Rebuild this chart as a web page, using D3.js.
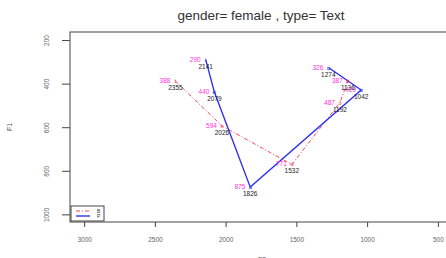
<!DOCTYPE html>
<html>
   <head>
      <script src="https://d3js.org/d3.v7.min.js"></script>
   </head>
   <style>
      body { margin: 0; background: #fff; }
   </style>
   <body>
      <script>
         let [width, height] = [446, 258];
         let [plotLeft, plotTop, plotRight, plotBottom] = [70, 32, 452, 222];

         // vowel data: F2 (x), F1 (y), symbol, series
         let vowels = ['i', 'ɪ', 'e', 'ɛ', 'a', 'ɑ', 'u', 'ʊ', 'o', 'ɔ'];
         let f2 = [2141, 2355, 2079, 2026, 1826, 1532, 1274, 1136, 1042, 1192];
         let f1 = [290, 388, 440, 594, 875, 771, 326, 387, 429, 487];
         let group = ['P', 'B', 'P', 'B', 'P', 'B', 'P', 'B', 'P', 'B'];
         let bluePath = [0, 2, 4, 8, 6];
         let redPath = [1, 3, 5, 9, 7];
         let xTicks = [3000, 2500, 2000, 1500, 1000, 500];
         let yTicks = [200, 400, 600, 800, 1000];
         let legendLabels = ['B', 'P'];

         let svg = d3.select('body').append('svg').attr('width', width).attr('height', height);

         let x = d3.scaleLinear().domain([3100, 400]).range([plotLeft, plotRight]);
         let y = d3.scaleLinear().domain([163, 1035]).range([plotTop, plotBottom]);

         // title
         svg.append('text')
            .attr('x', 261).attr('y', 20)
            .attr('text-anchor', 'middle')
            .style('font-family', 'Liberation Sans, Arial')
            .style('font-size', '13.5px')
            .style('fill', '#333')
            .text('gender= female , type= Text');

         // axes
         let xAxis = svg.append('g')
            .attr('transform', `translate(0, ${plotBottom})`)
            .call(d3.axisBottom(x).tickValues(xTicks).tickSize(5).tickPadding(10).tickFormat(d3.format('d')));
         let yAxis = svg.append('g')
            .attr('transform', `translate(${plotLeft}, 0)`)
            .call(d3.axisLeft(y).tickValues(yTicks).tickSize(8).tickFormat(d3.format('d')));

         [xAxis, yAxis].forEach(a => {
            a.select('.domain').remove();
            a.selectAll('line').attr('stroke', '#444');
            a.selectAll('text')
               .style('font-family', 'Liberation Sans, Arial')
               .style('font-size', '6.5px')
               .style('fill', '#666');
         });
         yAxis.selectAll('text')
            .attr('x', 0).attr('dy', 0)
            .attr('text-anchor', 'middle')
            .attr('transform', 'translate(-21, 0) rotate(-90)');

         // axis titles
         svg.append('text')
            .attr('transform', 'translate(12, 127) rotate(-90)')
            .attr('text-anchor', 'middle')
            .style('font-family', 'Liberation Sans, Arial')
            .style('font-size', '7px')
            .style('fill', '#555')
            .text('F1');
         svg.append('text')
            .attr('x', 262).attr('y', 262)
            .attr('text-anchor', 'middle')
            .style('font-family', 'Liberation Sans, Arial')
            .style('font-size', '7px')
            .style('fill', '#555')
            .text('F2');

         // frame
         svg.append('rect')
            .attr('x', plotLeft).attr('y', plotTop)
            .attr('width', plotRight - plotLeft).attr('height', plotBottom - plotTop)
            .attr('fill', 'none').attr('stroke', '#444');

         let line = d3.line().x(i => x(f2[i])).y(i => y(f1[i]));

         svg.append('path')
            .attr('d', line(redPath))
            .attr('fill', 'none')
            .attr('stroke', '#ee4466')
            .attr('stroke-width', 1)
            .attr('stroke-dasharray', '4,2,1,2');

         svg.append('path')
            .attr('d', line(bluePath))
            .attr('fill', 'none')
            .attr('stroke', '#3030ee')
            .attr('stroke-width', 1.4);

         let pts = d3.range(f2.length);

         // vowel symbols
         svg.selectAll('.sym')
            .data(pts)
            .enter()
            .append('text')
            .attr('x', i => x(f2[i]))
            .attr('y', i => y(f1[i]) + 2)
            .attr('text-anchor', 'middle')
            .style('font-family', 'DejaVu Sans')
            .style('font-size', '6px')
            .style('fill', i => group[i] === 'P' ? '#3030ee' : '#ee3355')
            .text(i => vowels[i]);

         // F1 labels (pink, left)
         svg.selectAll('.f1lab')
            .data(pts)
            .enter()
            .append('text')
            .attr('x', i => x(f2[i]) - 5)
            .attr('y', i => y(f1[i]) + 2)
            .attr('text-anchor', 'end')
            .style('font-family', 'Liberation Sans, Arial')
            .style('font-size', '6.5px')
            .style('fill', '#ff33dd')
            .text(i => f1[i]);

         // F2 labels (black, below)
         svg.selectAll('.f2lab')
            .data(pts)
            .enter()
            .append('text')
            .attr('x', i => x(f2[i]))
            .attr('y', i => y(f1[i]) + 9)
            .attr('text-anchor', 'middle')
            .style('font-family', 'Liberation Sans, Arial')
            .style('font-size', '6.5px')
            .style('fill', '#222')
            .text(i => f2[i]);

         // legend
         let legend = svg.append('g');
         legend.append('rect')
            .attr('x', 71).attr('y', 206)
            .attr('width', 33).attr('height', 15)
            .attr('fill', '#fff').attr('stroke', '#444');
         legend.append('line')
            .attr('x1', 76).attr('x2', 90).attr('y1', 211).attr('y2', 211)
            .attr('stroke', '#ee4466').attr('stroke-dasharray', '4,2,1,2');
         legend.append('line')
            .attr('x1', 76).attr('x2', 90).attr('y1', 216).attr('y2', 216)
            .attr('stroke', '#3030ee').attr('stroke-width', 1.4);
         legend.selectAll('.leglab')
            .data(legendLabels)
            .enter()
            .append('text')
            .attr('x', 97)
            .attr('y', (d, i) => 213 + i * 5)
            .style('font-family', 'Liberation Sans, Arial')
            .style('font-size', '5px')
            .style('fill', '#333')
            .text(d => d);
      </script>
   </body>
</html>
